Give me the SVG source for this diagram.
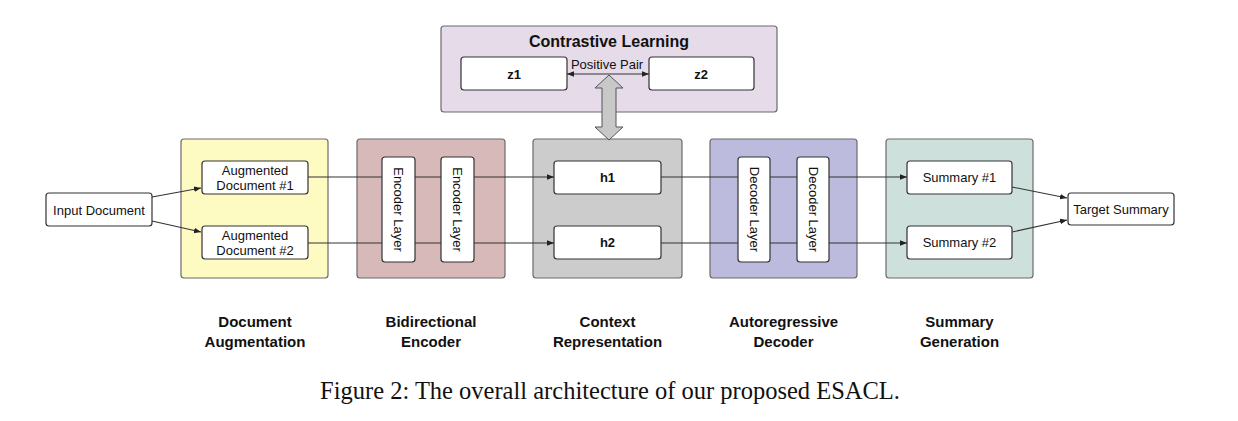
<svg xmlns="http://www.w3.org/2000/svg" width="1238" height="421" viewBox="0 0 1238 421">
<defs>
<marker id="ah" viewBox="0 0 10 10" refX="10" refY="5" markerWidth="7" markerHeight="7" markerUnits="userSpaceOnUse" orient="auto-start-reverse"><path d="M0,1 L10,5 L0,9 z" fill="#222"/></marker>
<style>
.grp{stroke:#6b6b6b;stroke-width:1.2}
.nd{fill:#fff;stroke:#333;stroke-width:1.2}
.t{font-family:"Liberation Sans",Arial,sans-serif;font-size:13px;fill:#111;text-anchor:middle;dominant-baseline:central}
.b{font-family:"Liberation Sans",Arial,sans-serif;font-weight:bold;fill:#111;text-anchor:middle}
.ln{stroke:#333;stroke-width:1.1;fill:none}
</style>
</defs>
<rect width="1238" height="421" fill="#fff"/>

<g id="contrastive">
<rect x="441" y="26" width="336" height="86" rx="3" class="grp" fill="#e6dbe9"/>
<text x="609" y="47" class="b" font-size="16">Contrastive Learning</text>
</g>
<g id="z1"><rect x="461" y="57" width="106" height="33" rx="3" class="nd"/><text x="514" y="74" class="t" font-weight="bold">z1</text></g>
<g id="z2"><rect x="649" y="57" width="105" height="33" rx="3" class="nd"/><text x="701" y="74" class="t" font-weight="bold">z2</text></g>
<text x="607" y="64" class="t" font-size="12.5">Positive Pair</text>

<g id="doc-aug"><rect x="181" y="139" width="147" height="139" rx="3" class="grp" fill="#fdfbc2"/></g>
<g id="encoder"><rect x="357" y="139" width="148" height="139" rx="3" class="grp" fill="#d8b9ba"/></g>
<g id="context"><rect x="533" y="139" width="149" height="139" rx="3" class="grp" fill="#cccccc"/></g>
<g id="decoder"><rect x="710" y="139" width="147" height="139" rx="3" class="grp" fill="#bcbbdd"/></g>
<g id="summary-gen"><rect x="886" y="139" width="147" height="139" rx="3" class="grp" fill="#cde0dc"/></g>

<g id="connectors">
<line x1="567" y1="74" x2="649" y2="74" class="ln" marker-start="url(#ah)" marker-end="url(#ah)"/>
<path d="M609,75 L623,88 L616,88 L616,127 L623,127 L609,140 L595,127 L602,127 L602,88 L595,88 Z" fill="#c8c8c8" stroke="#555" stroke-width="1"/>
<line x1="152" y1="197" x2="201" y2="188" class="ln" marker-end="url(#ah)"/>
<line x1="152" y1="221" x2="201" y2="232" class="ln" marker-end="url(#ah)"/>
<line x1="308" y1="177" x2="554" y2="177" class="ln" marker-end="url(#ah)"/>
<line x1="308" y1="243" x2="554" y2="243" class="ln" marker-end="url(#ah)"/>
<line x1="661" y1="177" x2="907" y2="177" class="ln" marker-end="url(#ah)"/>
<line x1="661" y1="243" x2="907" y2="243" class="ln" marker-end="url(#ah)"/>
<line x1="1012" y1="187" x2="1067" y2="198" class="ln" marker-end="url(#ah)"/>
<line x1="1012" y1="232" x2="1067" y2="220" class="ln" marker-end="url(#ah)"/>
</g>

<g id="input-doc"><rect x="46" y="193" width="106" height="33" rx="3" class="nd"/><text x="99" y="210" class="t">Input Document</text></g>
<g id="aug1"><rect x="202" y="161" width="106" height="33" rx="3" class="nd"/><text x="255" y="170" class="t">Augmented</text><text x="255" y="185" class="t">Document #1</text></g>
<g id="aug2"><rect x="202" y="226" width="106" height="33" rx="3" class="nd"/><text x="255" y="235" class="t">Augmented</text><text x="255" y="250" class="t">Document #2</text></g>

<g id="enc1"><rect x="382" y="157" width="33" height="105" rx="3" class="nd"/><text transform="translate(398.5,209.5) rotate(90)" class="t">Encoder Layer</text></g>
<g id="enc2"><rect x="441" y="157" width="33" height="105" rx="3" class="nd"/><text transform="translate(457.5,209.5) rotate(90)" class="t">Encoder Layer</text></g>

<g id="h1"><rect x="554" y="161" width="107" height="33" rx="3" class="nd"/><text x="607.5" y="177.5" class="t" font-weight="bold">h1</text></g>
<g id="h2"><rect x="554" y="226" width="107" height="33" rx="3" class="nd"/><text x="607.5" y="242.5" class="t" font-weight="bold">h2</text></g>

<g id="dec1"><rect x="738" y="157" width="32" height="105" rx="3" class="nd"/><text transform="translate(754,209.5) rotate(90)" class="t">Decoder Layer</text></g>
<g id="dec2"><rect x="797" y="157" width="32" height="105" rx="3" class="nd"/><text transform="translate(813,209.5) rotate(90)" class="t">Decoder Layer</text></g>

<g id="sum1"><rect x="907" y="161" width="105" height="33" rx="3" class="nd"/><text x="959.5" y="177.5" class="t">Summary #1</text></g>
<g id="sum2"><rect x="907" y="226" width="105" height="33" rx="3" class="nd"/><text x="959.5" y="242.5" class="t">Summary #2</text></g>
<g id="target"><rect x="1068" y="193" width="106" height="32" rx="3" class="nd"/><text x="1121" y="209.5" class="t">Target Summary</text></g>

<g id="labels" font-size="15">
<text x="255" y="327" class="b">Document</text><text x="255" y="347" class="b">Augmentation</text>
<text x="431" y="327" class="b">Bidirectional</text><text x="431" y="347" class="b">Encoder</text>
<text x="607.5" y="327" class="b">Context</text><text x="607.5" y="347" class="b">Representation</text>
<text x="783.5" y="327" class="b">Autoregressive</text><text x="783.5" y="347" class="b">Decoder</text>
<text x="959.5" y="327" class="b">Summary</text><text x="959.5" y="347" class="b">Generation</text>
</g>

<text x="610" y="399" font-family="'Liberation Serif','Times New Roman',serif" font-size="24.5" fill="#111" text-anchor="middle">Figure 2: The overall architecture of our proposed ESACL.</text>
</svg>
